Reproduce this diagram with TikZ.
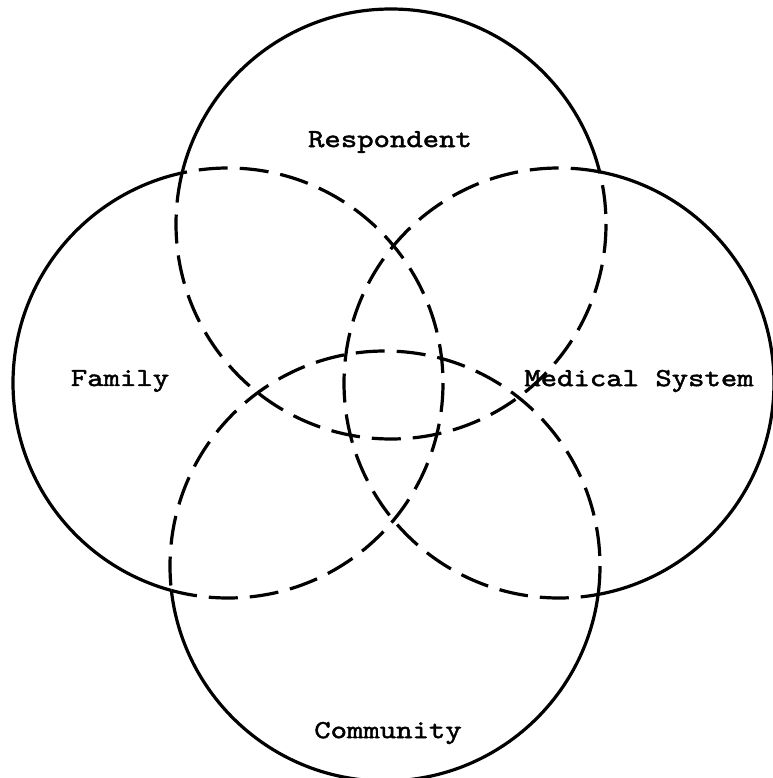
\documentclass[tikz,border=0pt]{standalone}
\usepackage{fontspec}
\newfontfamily\lblfont[FakeStretch=1.2,FakeBold=1.8]{lmmono10-regular.otf}
\newcommand\myR{215}
\newcommand\ringpart[4]{%
  \begin{scope}[even odd rule]
    \clip (-60,-60) rectangle (860,860) (#2) circle[radius=\myR];
    \clip (-60,-60) rectangle (860,860) (#3) circle[radius=\myR];
    \clip (-60,-60) rectangle (860,860) (#4) circle[radius=\myR];
    \draw[ring] (#1) circle[radius=\myR];
  \end{scope}
  \begin{scope}[nonzero rule]
    \clip (#2) circle[radius=\myR] (#3) circle[radius=\myR] (#4) circle[radius=\myR];
    \draw[ring,dsh] (#1) circle[radius=\myR];
  \end{scope}}
\begin{document}
\begin{tikzpicture}[x=1pt,y=-1pt,
  ring/.style={line width=3.2pt},
  dsh/.style={dash pattern=on 29pt off 12pt},
  lbl/.style={font=\lblfont\fontsize{26}{30}\selectfont, inner sep=0pt}]
\useasboundingbox[fill=white] (0,0) rectangle (772,778);
\coordinate (T) at (391,224);
\coordinate (L) at (228,383);
\coordinate (R) at (559,383);
\coordinate (B) at (385,566);
\ringpart{T}{L}{R}{B}
\ringpart{L}{T}{R}{B}
\ringpart{R}{T}{L}{B}
\ringpart{B}{T}{L}{R}
\node[lbl] (resp) at (390,142) {Respondent};
\node[lbl] (fam) at (120,381) {Family};
\node[lbl] (med) at (639,381) {Medical System};
\node[lbl] (comm) at (388,733) {Community};
\end{tikzpicture}
\end{document}
